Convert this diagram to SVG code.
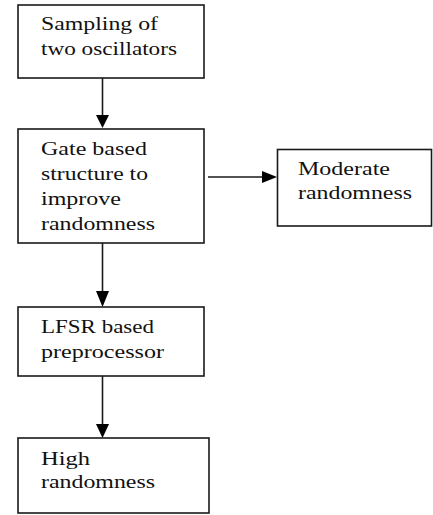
<svg xmlns="http://www.w3.org/2000/svg" width="433" height="515" viewBox="0 0 433 515">
<style>
.box{fill:#fff;stroke:#1a1a1a;stroke-width:1.6}
.t{font-family:"Liberation Serif","Times New Roman",serif;font-size:18px;fill:#111}
.c{stroke:#1a1a1a;stroke-width:1.6;fill:none}
.h{fill:#000}
</style>
<rect width="433" height="515" fill="#fff"/>
<g id="connectors">
<line class="c" x1="102.5" y1="78" x2="102.5" y2="116"/>
<polygon class="h" points="96,115 109,115 102.5,128"/>
<line class="c" x1="208" y1="177" x2="264" y2="177"/>
<polygon class="h" points="262,171 262,183 277,177"/>
<line class="c" x1="102.5" y1="243" x2="102.5" y2="292"/>
<polygon class="h" points="96,291 109,291 102.5,307"/>
<line class="c" x1="102.5" y1="376" x2="102.5" y2="425"/>
<polygon class="h" points="96,424 109,424 102.5,438"/>
</g>
<g id="n1">
<rect class="box" x="18" y="5" width="186" height="73"/>
<text class="t" x="41" y="30" textLength="117" lengthAdjust="spacingAndGlyphs">Sampling of</text>
<text class="t" x="41" y="55" textLength="136" lengthAdjust="spacingAndGlyphs">two oscillators</text>
</g>
<g id="n2">
<rect class="box" x="18" y="129" width="186" height="114"/>
<text class="t" x="41" y="155" textLength="106" lengthAdjust="spacingAndGlyphs">Gate based</text>
<text class="t" x="41" y="180" textLength="107" lengthAdjust="spacingAndGlyphs">structure to</text>
<text class="t" x="41" y="205" textLength="80" lengthAdjust="spacingAndGlyphs">improve</text>
<text class="t" x="41" y="230" textLength="114" lengthAdjust="spacingAndGlyphs">randomness</text>
</g>
<g id="n3">
<rect class="box" x="277.5" y="149.5" width="154" height="76.5"/>
<text class="t" x="298" y="175" textLength="92" lengthAdjust="spacingAndGlyphs">Moderate</text>
<text class="t" x="298" y="199" textLength="114" lengthAdjust="spacingAndGlyphs">randomness</text>
</g>
<g id="n4">
<rect class="box" x="18" y="307" width="186" height="69"/>
<text class="t" x="41" y="333" textLength="113" lengthAdjust="spacingAndGlyphs">LFSR based</text>
<text class="t" x="41" y="358" textLength="123" lengthAdjust="spacingAndGlyphs">preprocessor</text>
</g>
<g id="n5">
<rect class="box" x="18" y="438" width="191" height="75"/>
<text class="t" x="41" y="465" textLength="49" lengthAdjust="spacingAndGlyphs">High</text>
<text class="t" x="41" y="488" textLength="114" lengthAdjust="spacingAndGlyphs">randomness</text>
</g>
</svg>
